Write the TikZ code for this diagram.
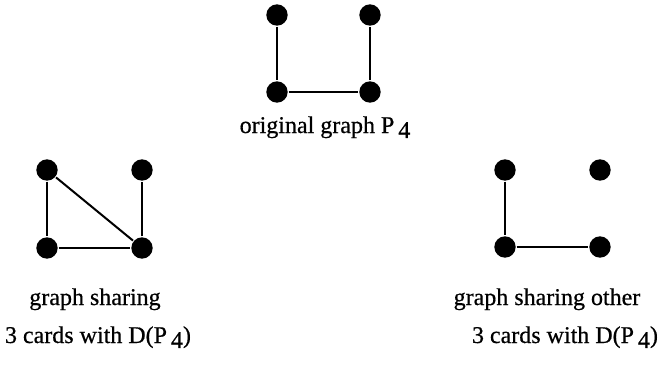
\documentclass[tikz,border=0pt]{standalone}
\usepackage{fontspec}
\setmainfont{Liberation Serif}[FakeBold=0.6]
\newcommand{\lowsub}[1]{\,\raisebox{-0.45ex}{#1}}
\tikzset{every picture/.style={line width=1.5pt},
  vtx/.style={circle,fill=black,draw=none,minimum size=16pt,inner sep=0pt},
  lbl/.style={anchor=base,inner sep=0.75pt,font=\fontsize{18}{22}\selectfont}}

\begin{document}
\begin{tikzpicture}[x=0.75pt,y=0.75pt,yscale=-1,xscale=1]
\useasboundingbox (0,0) rectangle (669,379);

% Original graph
\node [vtx] (pa) at (277,15) {};
\node [vtx] (pb) at (370,15) {};
\node [vtx] (pc) at (277,92) {};
\node [vtx] (pd) at (370,92) {};
\draw (pa) -- (pc) -- (pd) -- (pb) ;

% Graph sharing 3 cards
\node [vtx] (la) at (47,170) {};
\node [vtx] (lb) at (142,170) {};
\node [vtx] (lc) at (47,248) {};
\node [vtx] (ld) at (142,248) {};
\draw (la) -- (lc) -- (ld) -- (lb) ;
\draw (la) -- (ld) ;

% Graph sharing other 3 cards
\node [vtx] (ra) at (505,170) {};
\node [vtx] (rb) at (600,170) {};
\node [vtx] (rc) at (505,247) {};
\node [vtx] (rd) at (600,247) {};
\draw (ra) -- (rc) -- (rd) ;

% Text Node
\node [lbl] (torig) at (325,133) {original graph P\lowsub{4}};
% Text Node
\node [lbl] (tleft) at (95,305) {graph sharing};
% Text Node
\node [lbl] (tlefttwo) at (98,343) {3 cards with D(P\lowsub{4})};
% Text Node
\node [lbl] (tright) at (547,305) {graph sharing other};
% Text Node
\node [lbl] (trighttwo) at (565,343) {3 cards with D(P\lowsub{4})};

\end{tikzpicture}
\end{document}
